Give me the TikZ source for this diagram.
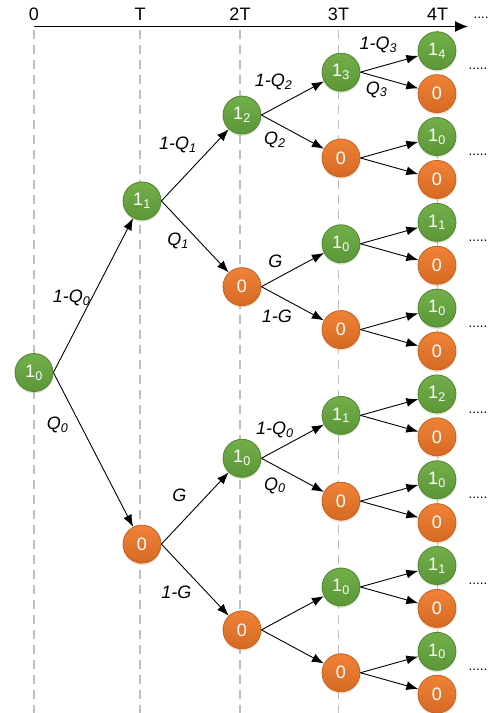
\documentclass[tikz,border=0pt]{standalone}
\usepackage{fontspec}
\setmainfont{Liberation Sans}
\usetikzlibrary{arrows.meta, shadows}

\definecolor{onetop}{RGB}{114,175,73}
\definecolor{onebot}{RGB}{92,150,56}
\definecolor{onedraw}{RGB}{84,130,53}
\definecolor{zerotop}{RGB}{240,130,55}
\definecolor{zerobot}{RGB}{214,106,36}
\definecolor{zerodraw}{RGB}{197,96,30}
\definecolor{gridgray}{RGB}{191,191,191}

\begin{document}
\begin{tikzpicture}[
        x=1pt, y=-1pt,
        one/.style={circle, draw=onedraw, line width=0.8pt, top color=onetop, bottom color=onebot, text=white, minimum size=38pt, inner sep=0pt, font=\fontsize{18}{18}\selectfont, drop shadow={shadow xshift=0pt, shadow yshift=-2pt, opacity=0.25, fill=onetop}},
        zero/.style={circle, draw=zerodraw, line width=0.8pt, top color=zerotop, bottom color=zerobot, text=white, minimum size=38pt, inner sep=0pt, font=\fontsize{18}{18}\selectfont, drop shadow={shadow xshift=0pt, shadow yshift=-2pt, opacity=0.25, fill=zerotop}},
        tick/.style={font=\fontsize{18}{18}\selectfont, inner sep=0pt},
        lab/.style={font=\itshape\fontsize{18}{18}\selectfont, inner sep=1pt},
        cont/.style={font=\fontsize{13.5}{13.5}\selectfont, inner sep=0pt},
        grid/.style={gridgray, line width=1.5pt, dash pattern=on 9pt off 6pt},
        axis/.style={line width=1pt, -{Latex[length=13pt,width=11pt]}},
        arrow/.style={line width=0.9pt, -{Latex[length=12pt,width=9pt]}}
    ]
        \useasboundingbox (0,0) rectangle (489,713);

        % Time axis
        \foreach \x/\t in {34/0, 140/T, 240/2T, 338.5/3T, 437.5/4T} {
            \node[tick] (t\t) at (\x,14) {\t};
            \draw[grid] (\x,30) -- (\x,713);
        }
        \coordinate (ax0) at (34,26.5);
        \coordinate (ax1) at (468,26.5);
        \draw[axis] (ax0) -- (ax1);
        \node[cont] (axmore) at (481,18) {....};

        % Root
        \node[one] (r) at (34,372.5) {1\textsubscript{0}};

        % T
        \node[one] (a0) at (142,200.9) {1\textsubscript{1}};
        \node[zero] (a1) at (142,544.1) {0};

        % 2T
        \node[one] (b0) at (242,115.05) {1\textsubscript{2}};
        \node[zero] (b1) at (242,286.65) {0};
        \node[one] (b2) at (242,458.25) {1\textsubscript{0}};
        \node[zero] (b3) at (242,629.85) {0};

        % 3T
        \foreach \st/\txt [count=\j from 0] in {one/1\textsubscript{3}, zero/0, one/1\textsubscript{0}, zero/0, one/1\textsubscript{1}, zero/0, one/1\textsubscript{0}, zero/0}
            \node[\st] (c\j) at (341,{72.15+85.8*\j}) {\txt};

        % 4T
        \foreach \st/\txt [count=\k from 0] in {one/1\textsubscript{4}, zero/0, one/1\textsubscript{0}, zero/0, one/1\textsubscript{1}, zero/0, one/1\textsubscript{0}, zero/0, one/1\textsubscript{2}, zero/0, one/1\textsubscript{0}, zero/0, one/1\textsubscript{1}, zero/0, one/1\textsubscript{0}, zero/0}
            \node[\st] (d\k) at (437,{50.7+42.9*\k}) {\txt};

        % Continuation marks
        \foreach \j in {0,...,7}
            \node[cont] (m\j) at (478,{69.15+85.8*\j}) {.....};

        % Arrows
        \draw[arrow] (r.east) -- node[lab, pos=0.42, above left, xshift=5pt] {1-Q\textsubscript{0}} (a0);
        \draw[arrow] (r.east) -- node[lab, pos=0.28, below left, xshift=-6pt] {Q\textsubscript{0}} (a1);

        \draw[arrow] (a0.east) -- node[lab, pos=0.65, above left, xshift=-7pt] {1-Q\textsubscript{1}} (b0);
        \draw[arrow] (a0.east) -- node[lab, pos=0.43, below left] {Q\textsubscript{1}} (b1);
        \draw[arrow] (a1.east) -- node[lab, pos=0.57, above left, xshift=-12pt] {G} (b2);
        \draw[arrow] (a1.east) -- node[lab, pos=0.57, below left, xshift=-7pt] {1-G} (b3);

        \draw[arrow] (b0.east) -- node[lab, pos=0.52, above left, yshift=6pt] {1-Q\textsubscript{2}} (c0);
        \draw[arrow] (b0.east) -- node[lab, pos=0.41, below left, yshift=-2pt] {Q\textsubscript{2}} (c1);
        \draw[arrow] (b1.east) -- node[lab, pos=0.36, above left, yshift=5pt] {G} (c2);
        \draw[arrow] (b1.east) -- node[lab, pos=0.51, below left, yshift=-5pt] {1-G} (c3);
        \draw[arrow] (b2.east) -- node[lab, pos=0.54, above left, yshift=1pt] {1-Q\textsubscript{0}} (c4);
        \draw[arrow] (b2.east) -- node[lab, pos=0.41, below left, yshift=-4pt] {Q\textsubscript{0}} (c5);
        \draw[arrow] (b3.east) -- (c6);
        \draw[arrow] (b3.east) -- (c7);

        \draw[arrow] (c0.east) -- node[lab, pos=0.66, above left, yshift=7pt] {1-Q\textsubscript{3}} (d0);
        \draw[arrow] (c0.east) -- node[lab, pos=0.49, below left] {Q\textsubscript{3}} (d1);
        \foreach \j in {1,...,7} {
            \pgfmathtruncatemacro\ka{2*\j}
            \pgfmathtruncatemacro\kb{2*\j+1}
            \draw[arrow] (c\j.east) -- (d\ka);
            \draw[arrow] (c\j.east) -- (d\kb);
        }
    \end{tikzpicture}
\end{document}
